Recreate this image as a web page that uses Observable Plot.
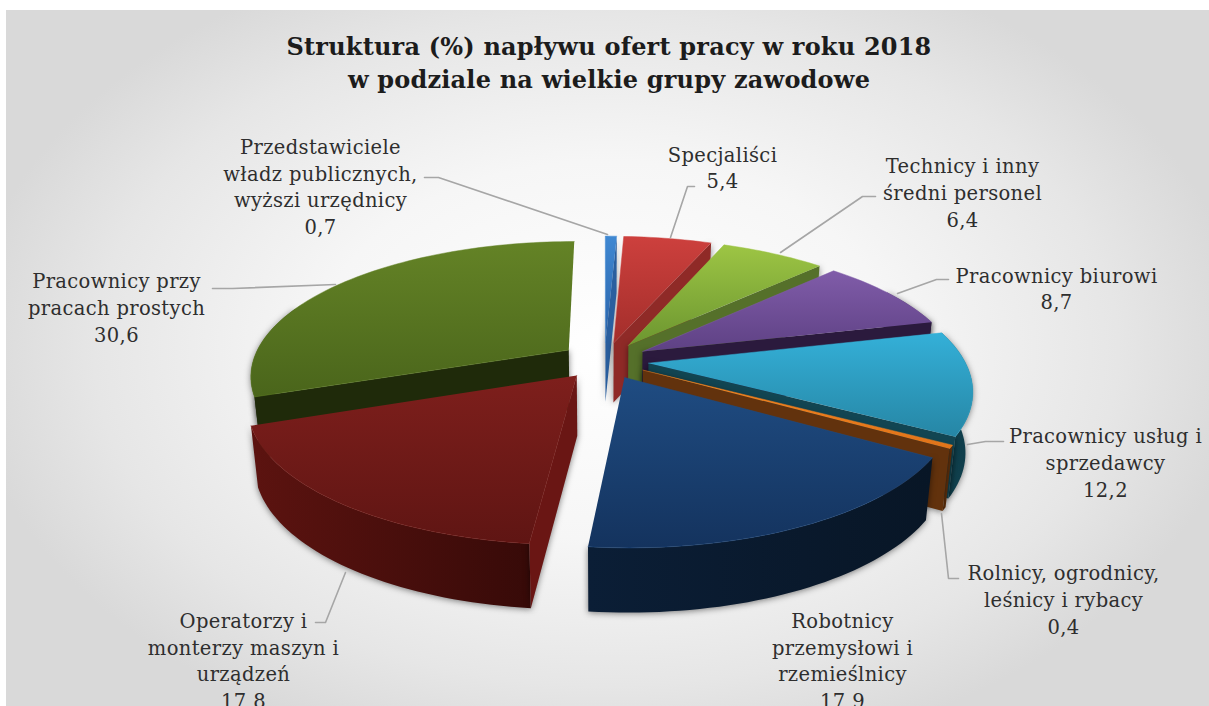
<!DOCTYPE html>
<html lang="pl">
<head>
<meta charset="utf-8">
<script src="https://cdn.jsdelivr.net/npm/d3@7"></script>
<script src="https://cdn.jsdelivr.net/npm/@observablehq/plot@0.6"></script>
<style>
html,body{margin:0;padding:0;background:#fff;overflow:hidden}
#frame{position:absolute;left:6px;top:10px;width:1203px;height:696px;overflow:hidden;
 background:radial-gradient(ellipse 640px 420px at 600px 340px,#ffffff 0%,#f6f6f6 45%,#e6e6e6 80%,#d9d9d9 100%)}
#title{height:90px;box-sizing:border-box;padding-top:20px;text-align:center;font:bold 24px/33px "DejaVu Serif",serif;letter-spacing:.2px;color:#1c1c1c;margin-left:3px;white-space:pre-line;}
svg{display:block}
svg text{letter-spacing:.35px}
</style>
</head>
<body>
<div id="frame"><div id="title"></div><div id="chart"></div></div>
<script>
const titleLines = ["Struktura (%) napływu ofert pracy w roku 2018","w podziale na wielkie grupy zawodowe"];
const categories = ["Przedstawiciele\nwładz publicznych,\nwyższi urzędnicy","Specjaliści","Technicy i inny\nśredni personel","Pracownicy biurowi","Pracownicy usług i\nsprzedawcy","Rolnicy, ogrodnicy,\nleśnicy i rybacy","Robotnicy\nprzemysłowi i\nrzemieślnicy","Operatorzy i\nmonterzy maszyn i\nurządzeń","Pracownicy przy\npracach prostych"];
const values = [0.7,5.4,6.4,8.7,12.2,0.4,17.9,17.8,30.6];
const topLight = ["#3f88d2","#cd403d","#9dc544","#805ca9","#34b0d8","#f6851f","#1f4c82","#7e1f1c","#648326"];
const topDark  = ["#2a62a8","#a32e2b","#6c9630","#5e4184","#2686a5","#e0741a","#14335e","#5f1513","#4a651b"];
const rimLight = ["#2a5f9f","#8f2a27","#5f7a2e","#2b1a3d","#124552","#5f300c","#0b1e36","#5c1310","#2c3c10"];
const rimDark  = ["#2a5f9f","#7a2320","#4d6424","#2b1a3d","#0f3c49","#5f300c","#081626","#370a08","#1f2a0a"];
const sideColor= ["#2a5f9f","#8f2a27","#55702a","#2b1a3d","#124552","#62320d","#0b1e36","#6a1614","#1f2a0a"];
const drawOrder= [8,0,1,2,3,4,5,6,7];
const labelX = [320,722,962,1056,1105,1063,842,243,116];
const labelY = [185,166,191,287,461,598,659,659,306];
const leaders = [
 [[424,177],[438,177],[607,234]],
 [[694,186],[687,186],[670,237]],
 [[875,196],[862,196],[780,252]],
 [[948,279],[936,279],[897,293]],
 [[1003,441],[985,441],[967,444]],
 [[958,578],[948,578],[941,513]],
 [[315,622],[325,622],[345,572]],
 [[212,288],[232,288],[335,284]]
];
// pie geometry (3-D projection of the value angles)
const cx=604, cy=360, Rx=316, Ry=132, persp=.184, explode=.14, drop=60;
const rimFrom=60, rimTo=290;
const total=d3.sum(values);
const cum=d3.cumsum(values);
const rad=a=>a*Math.PI/180;
function proj(u,v){const s=1/(1+persp*v);return [cx+Rx*u*s, cy-Ry*v*s];}
function under([x,y]){return [cx+(x-cx)*.98, y+drop+.025*(y-cy)];}
const faces=[];
values.forEach((val,i)=>{
  const a1=cum[i]/total*360, a0=a1-val/total*360, mid=(a0+a1)/2;
  const ou=explode*Math.sin(rad(mid)), ov=explode*Math.cos(rad(mid));
  const at=a=>proj(ou+Math.sin(rad(a)),ov+Math.cos(rad(a)));
  const sample=(from,to)=>{const n=Math.max(2,Math.ceil((to-from)/1.5));return d3.range(n+1).map(k=>at(from+(to-from)*k/n));};
  const arc=sample(a0,a1);
  const apex=proj(ou,ov);
  const poly=(pts,kind)=>faces.push({i,kind,pts});
  // only the walls that face the viewer are drawn
  const r0=Math.max(a0,rimFrom), r1=Math.min(a1,rimTo);
  if (r1>r0){const rim=sample(r0,r1);poly([...rim,...rim.slice().reverse().map(under)],"rim");}
  if (a0>=180) poly([apex,arc[0],under(arc[0]),under(apex)],"side");
  else if (a1<=180) poly([apex,arc[arc.length-1],under(arc[arc.length-1]),under(apex)],"side");
  poly([apex,...arc],"top");
});
const vertices=faces.flatMap((f,id)=>f.pts.map(([x,y])=>({id,x,y,i:f.i,kind:f.kind})));
const shadow="drop-shadow(0px 1px 3px rgba(0,0,0,.5))";
const marks=[];
marks.push(()=>{
  const defs=d3.create("svg:defs");
  values.forEach((_,i)=>{
    const t=defs.append("linearGradient").attr("id","t"+i).attr("x1",0).attr("y1",0).attr("x2",0).attr("y2",1);
    t.append("stop").attr("offset",0).attr("stop-color",topLight[i]);
    t.append("stop").attr("offset",1).attr("stop-color",topDark[i]);
    const r=defs.append("linearGradient").attr("id","r"+i).attr("x1",0).attr("y1",0).attr("x2",1).attr("y2",0);
    r.append("stop").attr("offset",0).attr("stop-color",rimLight[i]);
    r.append("stop").attr("offset",1).attr("stop-color",rimDark[i]);
  });
  return defs.node();
});
drawOrder.forEach(i=>{
  const verts=k=>vertices.filter(d=>d.i===i&&d.kind===k);
  if (verts("rim").length) marks.push(Plot.line(verts("rim"),{x:"x",y:"y",z:"id",fill:`url(#r${i})`,stroke:"none",imageFilter:shadow}));
  if (verts("side").length) marks.push(Plot.line(verts("side"),{x:"x",y:"y",z:"id",fill:sideColor[i],stroke:"none",imageFilter:shadow}));
  marks.push(Plot.line(verts("top"),{x:"x",y:"y",z:"id",fill:`url(#t${i})`,stroke:topLight[i],strokeWidth:.8,strokeOpacity:.6}));
});
const leaderPts=leaders.flatMap((l,id)=>l.map(([x,y])=>({id,x,y})));
marks.push(Plot.line(leaderPts,{x:"x",y:"y",z:"id",stroke:"#a6a6a6",strokeWidth:1.6,strokeLinejoin:"round"}));
const fmt=v=>v.toFixed(1).replace(".",",");
const labels=categories.map((c,i)=>({text:c+"\n"+fmt(values[i]),x:labelX[i],y:labelY[i]}));
marks.push(Plot.text(labels,{x:"x",y:"y",text:"text",textAnchor:"middle",lineAnchor:"middle",lineHeight:1.36,fontSize:19.5,fontFamily:"DejaVu Serif",fill:"#2e2e2e"}));
document.getElementById("title").textContent=titleLines.join("\n");
const plot=Plot.plot({width:1203,height:606,margin:0,
  x:{type:"linear",domain:[6,1209],range:[0,1203],axis:null},
  y:{type:"linear",domain:[100,706],range:[0,606],axis:null},
  style:{background:"transparent",overflow:"hidden"},
  marks});
document.getElementById("chart").appendChild(plot);
</script>
</body>
</html>
